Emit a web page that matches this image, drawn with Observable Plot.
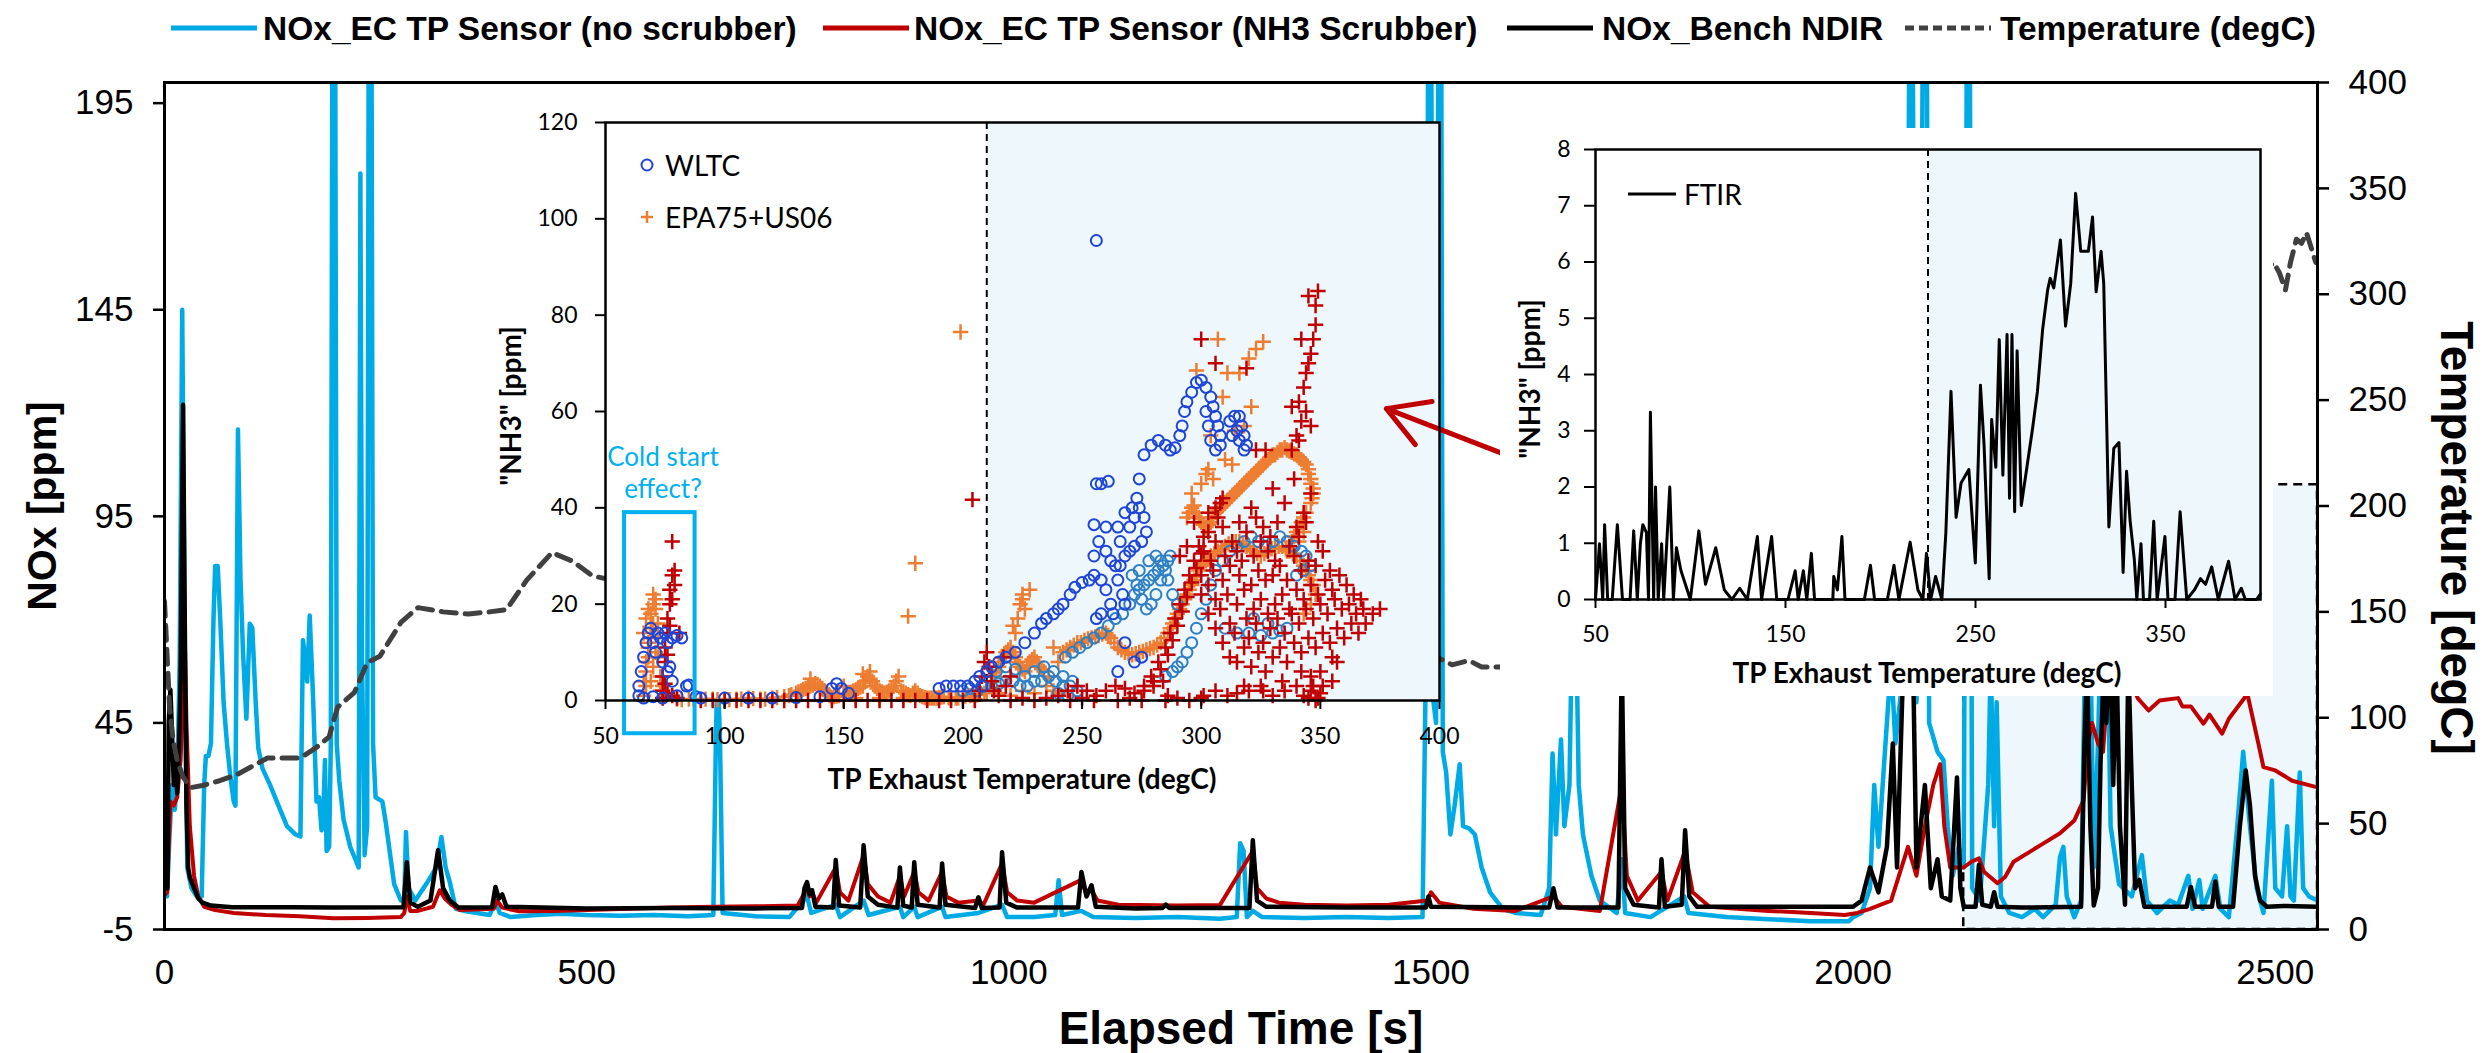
<!DOCTYPE html>
<html><head><meta charset="utf-8">
<script src="https://cdn.jsdelivr.net/npm/d3@7"></script>
<script src="https://cdn.jsdelivr.net/npm/@observablehq/plot@0.6"></script>
<style>
html,body{margin:0;padding:0;background:#fff;}
#root{position:relative;width:2488px;height:1053px;overflow:hidden;background:#fff;}
.abs{position:absolute;white-space:nowrap;line-height:1;}
.arial{font-family:'Liberation Sans',Arial,sans-serif;color:#000;}
.cal{font-family:Lato,'Noto Sans',sans-serif;color:#000;}
.wrap{position:absolute;}
.wrap svg{max-width:none !important;display:block;}
</style></head><body><div id="root"></div>
<script>
// ---------------- MAIN CHART DATA ----------------
const legendLabels = ["NOx_EC TP Sensor (no scrubber)", "NOx_EC TP Sensor (NH3 Scrubber)", "NOx_Bench NDIR", "Temperature (degC)"];
const seriesColors = ["#00aae4", "#c00000", "#000000", "#404040"];
const xTicks = [0, 500, 1000, 1500, 2000, 2500];
const leftTicks = [-5, 45, 95, 145, 195];
const tempTicks = [0, 50, 100, 150, 200, 250, 300, 350, 400];
const shadeBox = {t1: 2131, t2: 2550, T1: 0, T2: 210};

// [time s, NOx ppm]
const noxNoScrubber = [
[0,5],[3,3],[6,18],[9,30],[12,24],[15,30],[18,60],[21,145],[24,60],[27,10],[32,5],[38,3],[44,3],[47,30],[49,37],[52,37],[55,40],[58,70],[60,83],[63,83],[66,70],[70,50],[74,40],[78,32],[82,26],[84,25],[87,116],[90,80],[93,62],[97,46],[101,69],[104,68],[108,50],[111,39],[116,34],[125,30],[135,25],[145,20],[155,18],[161,17.5],[164,65],[167,60],[169,55],[172,71],[176,51],[180,26],[183,27],[186,19],[188,22],[190,36],[192,14],[195,15],[197,40],[199,230],[202,230],[204,40],[207,31],[212,21.7],[220,15],[226,12],[230,10],[232,178],[234,60],[237,13],[240,20],[242,230],[245,230],[247,40],[250,27],[258,26],[262,21],[266,15],[272,6],[280,2],[284,2],[286,18.6],[289,5],[297,2],[310,6],[322,10],[328,17.4],[333,10],[338,6.4],[345,0],[355,-0.5],[370,-1],[385,-1.5],[392,2],[397,-1],[410,-2],[440,-1.5],[470,-1.2],[500,-1.5],[540,-1.7],[580,-1.5],[620,-1.8],[650,-1.5],[653,40],[655,60],[658,40],[661,-1],[700,-1.8],[740,-2],[761,3],[766,-1],[795,1],[800,-2],[828,2],[834,-1.5],[871,0.5],[875,-2],[888,0.5],[892,-2],[921,0.5],[925,-2],[964,-1],[992,1],[998,-2],[1030,-2],[1055,-1.5],[1059,6.9],[1063,-1.5],[1086,-0.5],[1100,-2],[1150,-2.2],[1200,-2],[1250,-2.4],[1270,-2],[1274,15.9],[1278,14],[1282,-2],[1289,-0.5],[1300,-2],[1350,-2.2],[1400,-2],[1450,-2.2],[1490,-2],
[1494,60],[1497,230],[1500,230],[1503,50],[1506,45],[1509,230],[1512,230],[1514,38],[1518,33],[1523,18],[1528,25],[1534,35],[1538,20],[1545,19.5],[1552,18],[1560,10],[1570,4],[1585,0],[1600,-1],[1630,-1.5],[1640,5],[1644,37.6],[1648,18],[1654,41],[1658,20],[1664,30],[1668,80],[1671,80],[1675,30],[1680,18],[1690,8],[1700,2],[1720,-1],[1726,12],[1730,-1],[1760,-2],[1800,3],[1805,-1],[1850,-2],[1900,-2.5],[1950,-3],[1995,-3],
[2000,-2],[2010,-1],[2020,5],[2025,30],[2030,15],[2040,45],[2045,60],[2050,40],[2056,51],[2062,60],[2065,150],[2067,230],[2070,230],[2075,50],[2080,120],[2083,230],[2087,230],[2090,45],[2100,38],[2107,36],[2112,20],[2118,8],[2125,15],[2131,10],[2135,230],[2138,230],[2141,5],[2150,2],[2160,30],[2163,60],[2167,20],[2170,50],[2175,3],[2185,-1],[2200,-2],[2215,0],[2225,-2],[2240,1],[2245,12.5],[2249,15],[2253,3],[2262,-2],[2270,2],[2276,80],[2280,80],[2285,10],[2290,40],[2295,80],[2300,80],[2305,20],[2315,6],[2330,3],[2342,13],[2348,2],[2360,-1],[2375,2],[2385,1],[2397,8],[2402,0],[2410,7],[2414,0],[2429,8],[2435,0],[2445,-2],[2455,20],[2462,38],[2470,20],[2478,5],[2486,-1],[2496,31],[2500,5],[2508,3],[2514,20],[2518,3],[2522,2],[2529,33],[2533,5],[2540,3],[2550,2]
];
const noxScrubber = [
[0,3.3],[3,4],[7,26],[11,25],[15,27],[19,36],[22,50],[24,66],[26,45],[30,20],[35,8],[40,3],[47,0.5],[60,-0.3],[82,-1],[120,-1.5],[160,-1.8],[200,-2.3],[240,-2.2],[280,-2],[284,-1],[287,3],[291,-0.5],[300,-0.5],[318,0.5],[326,4.5],[332,2.5],[340,1],[350,-0.3],[390,0],[394,2],[400,0.3],[420,-0.6],[460,-0.5],[500,-0.3],[550,0],[600,0.3],[650,0.5],[700,0.6],[750,0.8],[761,5],[764,3],[767,4],[772,1.5],[795,10],[800,4],[810,2],[828,13],[833,6],[845,3],[860,1.5],[871,8],[876,3],[888,9],[893,4],[905,2],[921,9],[926,3],[940,1.5],[964,2],[970,1],[992,11],[998,4],[1010,2],[1030,1.5],[1086,7],[1091,4],[1098,4.5],[1105,2],[1130,1],[1200,0.8],[1250,0.9],[1289,14],[1294,5],[1305,2.5],[1320,1.5],[1350,1],[1400,0.8],[1450,1],[1496,2],[1500,4],[1510,1.5],[1550,0],[1600,-0.5],[1645,3],[1655,0.5],[1700,-0.5],[1726,30],[1732,8],[1745,2],[1773,9],[1780,2],[1801,14],[1810,4],[1830,0.5],[1900,-0.5],[1950,-1],[1990,-1.5],[2005,-1],[2020,0],[2045,2],[2065,15],[2075,8],[2085,20],[2095,30],[2103,35],[2108,20],[2115,10],[2131,10],[2140,11.4],[2149,12.2],[2155,9],[2171,6.2],[2180,7.7],[2190,11.4],[2226,15.9],[2245,18.3],[2262,21.4],[2273,26.3],[2278,40],[2283,45],[2290,40],[2296,38],[2302,55],[2310,60],[2320,60],[2330,55],[2337,51],[2350,48],[2363,50.4],[2385,51],[2390,49],[2400,49],[2415,44.8],[2422,47],[2437,42.4],[2445,46],[2467,52],[2480,40],[2486,34.3],[2500,33.5],[2520,31],[2550,29.4]
];
const noxBench = [
[0,5],[2,14],[3.5,5],[5,45],[7,53],[9,42],[11,30],[13,36],[15,28],[17,38],[19,55],[22,122],[24,70],[26,25],[28,10],[30,7.6],[35,5],[40,2.5],[45,1.5],[55,0.8],[80,0.4],[150,0.4],[200,0.3],[283,0.4],[287,11.3],[291,1.5],[300,0.5],[315,2],[324,14.2],[330,5],[338,2],[348,0.3],[388,0.4],[392,5.3],[396,2.5],[400,3.5],[405,0.5],[500,0.1],[600,0.2],[700,0.1],[755,0.2],[758,5],[761,6.5],[764,3.5],[767,4.5],[771,0.5],[792,0.3],[795,11.8],[799,0.8],[824,0.3],[828,15.4],[833,3],[845,1],[868,0.3],[871,10],[875,0.8],[885,0.3],[888,11.3],[892,1],[918,0.3],[921,11],[925,1],[960,0.2],[964,2.8],[968,0.2],[989,0.3],[992,13.7],[997,1.5],[1010,0.3],[1082,0.3],[1086,8.9],[1092,3],[1098,5.7],[1103,0.5],[1150,0.1],[1182,0.2],[1186,1],[1190,0.2],[1285,0.2],[1289,16.6],[1294,2],[1305,0.5],[1400,0.3],[1494,0.3],[1497,3],[1500,0.5],[1640,0.3],[1645,5],[1650,0.3],[1722,0.3],[1726,60],[1730,5],[1740,1],[1770,0.3],[1773,12],[1777,0.5],[1797,1],[1801,19],[1806,3],[1815,0.5],[1900,0.5],[2000,0.5],[2010,2],[2020,10],[2030,4],[2040,15],[2047,40],[2052,10],[2058,50],[2064,80],[2068,90],[2071,60],[2075,10],[2085,30],[2092,5],[2100,12],[2105,3],[2115,2],[2123,31.8],[2127,5],[2131,0.5],[2145,0.5],[2149,10.6],[2153,1],[2163,0.5],[2167,4],[2171,0.5],[2200,0.3],[2270,0.5],[2274,40],[2277,60],[2281,20],[2285,0.8],[2290,5],[2293,35],[2297,60],[2300,45],[2304,70],[2308,30],[2312,60],[2316,20],[2322,1],[2326,60],[2330,30],[2334,5],[2339,7],[2345,0.5],[2395,0.5],[2400,5.3],[2405,0.5],[2425,0.5],[2429,6.6],[2433,0.5],[2450,0.5],[2458,20],[2465,33.5],[2470,25],[2476,8],[2482,2],[2490,0.5],[2510,0.7],[2550,0.5]
];
// [time s, temperature degC]
const temperature = [
[0,155],[3,130],[6,105],[10,90],[15,80],[22,72],[31,67],[45,68],[63,70],[85,73],[122,81],[161,81],[180,86],[195,91],[205,105],[225,112],[240,126],[255,129],[280,145],[300,152],[330,150],[360,149],[385,150],[405,151],[429,165],[459,178],[483,174],[507,167],[530,165],[700,180],[900,200],[1100,190],[1300,160],[1480,130],[1510,128],[1525,125],[1545,127],[1560,124],[1582,124],[1700,150],[1900,180],[2100,230],[2300,280],[2470,305],[2498,315],[2505,310],[2512,302],[2518,315],[2525,326],[2531,324],[2537,329],[2548,315]
];

// ---------------- INSET 1 DATA (scatter) ----------------
const inset1XTicks = [50,100,150,200,250,300,350,400];
const inset1YTicks = [0,20,40,60,80,100,120];
const inset1Legend = ["WLTC", "EPA75+US06"];
const scatterColors = {wltcDark:"#1f45d6", wltcLight:"#2f7fc4", epaOrange:"#ed7d31", epaRed:"#c00000"};
const dividerTemp1 = 210;
const coldBox = {x1:58, x2:87.6, y1:-6.9, y2:39};
const coldText = ["Cold start", "effect?"];
const arrowSeg = {x1:432, y1:50.2, x2:377.7, y2:60.6};
// [T degC, NH3 ppm]
const wltcDark = [
[64,3],[65,6],[66,9],[67,12],[68,14],[69,15],[70,12],[71,10],[72,14],[73,13],[74,8],[75,14],[76,12],[77,7],[78,13],[80,13.5],[82,13],[76,6],[78,4],[84,3],[85,3.2],[64,1],[66,0.5],[70,0.8],[74,0.5],[80,1],[88,0.8],
[90,0.5],[100,0.5],[110,0.5],[120,0.5],[130,0.6],[140,0.8],[145,2.5],[147,3.5],[149,2.5],[152,1.5],[190,2.5],[193,3],[196,3],[199,3],[202,3],[205,4],[207,5],[208,3],[210,6],
[212,7],[215,8],[218,9],[222,10],[226,12],[230,14],[233,16],[235,17],[238,18],[240,19],[242,20],[245,22],[247,23.5],[250,24.5],[253,25],[255,26],[258,25],[260,23],[262,20],[263,18],[258,18],[256,17],[255,30],[257,33],[260,31],[262,29],[264,28],[266,28],[265,25],[267,22],[268,20],[270,36],[265,36],[268,39],[271,40],[273,42],[272,38],[274,40],[276,38],[277,35],[275,33],[272,32],[270,31],[268,30],[266,33],[260,36],[255,36.5],[256,45],[258,45],[261,45.5],[274,46],[276,51],[279,53],[282,54],[285,53],[287,52],[289,52.5],[291,55],[292,57],[293,60],[294,62],[296,64],[298,66],[300,66.5],[302,65],[304,63],[305,61],[306,59],[307,57],[308,55],[308,53],[306,52],[304,54],[303,57],[302,60],[312,58],[314,59],[316,59],[317,57],[318,55],[319,53],[318,52],[316,54],[315,56],[313,55],[256,95.5],[265,6],[272,8],[268,12],[275,9]
];
const wltcLight = [
[200,2],[203,2.5],[206,2],[209,3],[212,3],[215,3.5],[218,4],[221,4],[224,3],[227,3],[230,4],[233,4],[236,5],[239,4],[242,3],[245,3],[214,6],[218,7],[222,6.5],[226,5],[230,6],[234,7],[238,6],[242,5],[246,4],[248,2],[244,1],[240,1.5],
[243,9],[246,10],[249,11],[252,12],[255,13],[258,14],[261,15.5],[264,17],[267,18],[270,20],[272,22],[274,23],[276,24],[278,25],[280,26],[282,27],[284,28],[286,29],[287,30],[285,27],[283,25],[281,22],[279,20],[277,19],[275,21],[273,24],[271,26],[274,27],[278,29],[281,30],[283,29],[286,25],[288,22],[290,20],
[285,5],[288,6],[290,7],[292,8],[294,10],[296,12],[298,15],[300,18],[302,21],[304,24],[306,27],[309,29],[312,31],[315,32],[318,33],[321,34],[324,33],[327,32],[330,33],[333,34],[336,33],[339,32],[342,31],[344,30],[346,28],[343,27],[340,26],[310,15],[315,14],[320,14],[325,13.5],[330,14],[333,14.5],[336,15],[322,17],[328,16]
];
const epaOrange = [
[66,1],[67,3],[67,6],[68,9],[68,12],[69,15],[69,18],[70,20],[70,22],[71,19],[72,16],[72,13],[71,10],[70,7],[69,4],[73,2],[75,1],[66,4],[67,8],[68,11],[69,13],[70,16],[71,21],[68,19],[66,14],[67,17],[72,9],[73,5],[74,3],
[80,0.3],[85,0.3],[90,0.3],[95,0.3],[100,0.3],[105,0.3],[110,0.5],[115,0.3],[120,0.5],[125,0.8],[128,1.2],[130,1.5],[132,2],[134,2.5],[136,3],[138,3.5],[140,3],[142,2],[144,1],[146,0.8],[148,1],[150,1.2],[152,1.5],[154,2],[156,2.5],[158,3],[160,5],[161,6],[162,4],[163,3],[165,2],[167,1.5],[169,2],[171,3],[173,5],[174,2],[176,1.5],[178,1],[180,2],[182,1],[184,0.6],[186,0.5],[188,0.5],[190,0.6],[192,0.8],[195,0.5],[198,0.5],[200,0.8],[203,1],[206,1.2],[209,1.5],[177,17.5],[180,28.5],[199,76.5],
[82,0.2],[87,0.2],[92,0.3],[97,0.2],[102,0.2],[107,0.3],[112,0.4],[117,0.3],[122,0.6],[127,1],[131,1.8],[133,2.3],[135,2.8],[137,3.2],[139,3.3],[141,2.5],[143,1.5],[147,0.9],[151,1.4],[153,1.7],[155,2.2],[157,2.8],[159,4],[164,2.5],[166,1.8],[168,1.7],[170,2.5],[172,4],[175,1.8],[177,1.2],[179,1.5],[181,1.5],[183,0.8],[185,0.5],[187,0.5],[189,0.5],[191,0.7],[194,0.6],[197,0.5],[201,0.9],[204,1.1],[207,1.3],[210,1.6],[145,0.5],[155,0.5],[165,0.5],[175,0.5],[185,0.3],[195,0.3],[205,0.3],[158,5.5],[161,4.5],[136,4.5],[150,3],
[212,4],[214,6],[216,8],[218,10],[220,11],[222,9],[224,7],[226,6],[228,8],[230,9],[232,7],[234,6],[236,5],[222,14],[223,17],[224,20],[225,22],[226,19],[221,15.5],[238,11],[240,8],[235,3],[238,2],[240,1.5],[213,5],[215,7],[217,9],[219,10.5],[221,10],[223,8],[225,6.5],[227,7],[229,8.5],[231,8],[233,6.5],[210,2],[215,1.5],[220,1],[225,2],[230,1.5],
[242,10],[245,11],[248,12],[251,12.5],[254,13],[257,13.5],[260,14],[262,13],[265,11],[268,10],[271,9.5],[274,10],[277,10.5],[280,11],[283,12],[286,14],[288,16],[290,18],[292,20],[294,22],[296,24],[298,26],[300,28],[302,29],[304,30],[307,31],[310,32],[313,33],[316,33],[319,32],[322,31],[325,30],[328,31],[331,32],[334,32],[337,31],[340,30],[343,28],[345,26],[347,24],[348,22],[346,20],[343,18],
[243.5,10.5],[246.5,11.5],[249.5,12],[252.5,12.8],[255.5,13.2],[258.5,13.8],[261,13.5],[263.5,12],[266.5,10.5],[269.5,9.8],[272.5,9.7],[275.5,10.2],[278.5,10.8],[281.5,11.5],[284.5,13],[287,15],[289,17],[291,19],[293,21],[295,23],[297,25],[299,27],[301,28.5],[303,29.5],[305.5,30.5],[308.5,31.5],[311.5,32.5],[314.5,33],[317.5,32.5],[320.5,31.5],[323.5,30.5],[326.5,30.5],[329.5,31.5],[332.5,32],[335.5,31.5],[338.5,30.5],[341.5,29],[344,27],[346,25],
[294,38],[296,40],[298,39],[300,37],[302,36],[304,37],[306,39],[308,40],[310,41],[312,42],[314,43],[316,44],[318,45],[320,46],[322,47],[324,48],[326,49],[328,50],[330,51],[332,51.5],[334,52],[336,52],[338,51.5],[340,51],[342,50],[344,49],[345,47],[346,45],[347,43],[346,41],[344,39],[342,37],[340,35],[338,33],[336,31],[341,33],[343,35],
[295,39],[297,40.5],[299,38],[301,36.5],[303,36.5],[305,38],[307,39.5],[309,40.5],[311,41.5],[313,42.5],[315,43.5],[317,44.5],[319,45.5],[321,46.5],[323,47.5],[325,48.5],[327,49.5],[329,50.5],[331,51],[333,52],[335,52.5],[337,51.8],[339,51.2],[341,50.5],[343,49.5],[345,48],[346,46],[347,44],[346.5,42],[343,38],[341,36],[339,34],
[298,68.5],[307,75],[311,68],[309,63],[316,68],[320,71],[323,73],[326,74.5],[321,61],[304,55],[303,48],[302,47],[305,46],[310,50],[314,56],[318,57],[313,49],[296,43],[300,45],[225,21],[228,23]
];
const epaRed = [
[74,2],[74,5],[75,8],[75,11],[76,14],[76,17],[77,20],[77,23],[78,26],[79,27],[78,33],[81,14],[74,0.5],[80,0.5],[75,3.5],[76,9.5],[77,15.5],[78,21],[79,24],[76,1.5],[78,1],
[90,0],[100,0],[110,0],[120,0],[130,0],[140,0],[150,0],[160,0],[170,0],[180,0],[190,0],[200,0],[95,0],[105,0],[115,0],[125,0],[135,0],[145,0],[155,0],[165,0],[175,0],[185,0],[195,0],[205,0],[204,41.7],[207,2],[208,5],[209,8],[210,10],[211,7],[212,4],[213,2],[215,1],[218,3],[220,5],[217,9],
[220,0],[225,0.5],[230,0],[235,0.5],[245,0],[250,0.5],[255,0],[265,0],[270,0.5],[275,0],[285,0],[290,0.5],[295,0],[300,0.5],
[240,1],[244,2],[248,3],[252,2],[256,1],[260,2],[264,3],[268,2.5],[272,1.5],[276,2],[280,3],[284,4],[286,1],
[276,3],[279,5],[282,8],[285,11],[287,14],[289,17],[291,20],[293,23],[295,26],[297,29],[299,32],[301,34],[297,37],[303,39],[306,40],[309,42],[291,30],[294,32],[280,4],[283,6.5],[286,9.5],[288,12.5],[290,15.5],[292,18.5],[294,21.5],[296,24.5],[298,27.5],[300,30.5],
[300,22],[300,26],[301,31],[303,18],[303,24],[304,29],[303,35],[306,15],[306,21],[305,27],[306,33],[307,38],[309,12],[308,19],[309,25],[310,30],[309,36],[308,41],[312,9],[312,16],[311,22],[312,28],[313,33],
[315,8],[314,14],[315,20],[316,26],[315,31],[316,37],[318,11],[319,17],[318,23],[317,29],[319,35],[321,7],[320,13],[322,19],[321,24],[322,30],[321,40],[324,10],[323,16],[325,21],[324,27],[325,33],[323,38],
[327,6],[326,12],[328,18],[327,25],[328,31],[326,36],[330,9],[329,15],[331,20],[330,26],[331,29],[329,34],[330,44],[333,11],[332,17],[334,22],[333,28],[332,37],[336,8],[335,14],[337,19],[336,25],[337,32],[335,41],
[339,12],[338,18],[340,23],[339,30],[340,36],[339,46],[342,10],[341,16],[343,21],[342,27],[341,34],[343,39],[345,13],[344,19],[346,24],[345,29],[344,37],[346,43],[348,11],[347,17],[349,22],[348,28],[349,33],
[351,14],[350,20],[352,25],[351,31],[354,12],[353,18],[355,23],[354,27],[357,15],[356,21],[358,26],[360,13],[359,19],[361,24],[363,16],[362,20],[364,22],[366,14],[365,18],[367,21],[369,16],[368,19],[372,18],[375,19],
[318,3],[326,2],[334,4],[343,1],[350,6],[355,9],[347,3],[330,1],[335,2],[340,3],[345,0.5],[350,1.5],[355,4],[348,0],[351,3],[346,5],[342,6],[357,8],[301,1],[306,2],[311,1],[320,2],[325,3],[315,1.5],[346,2],[349,0.5],
[338,52],[340,55],[342,58],[344,60],[346,57],[341,62],[343,65],[344,68],[345,70],[346,72],[347,75],[348,78],[348,82],[349,85],[345,84],[342,75],[300,75],[306,70],[319,69],[323,52],[327,52],[341,54],[338,61]
];

// ---------------- INSET 2 DATA (FTIR line) ----------------
const inset2XTicks = [50,150,250,350];
const inset2YTicks = [0,1,2,3,4,5,6,7,8];
const dividerTemp2 = 225;
const ftirTemp = [50,52.1,53.8,54.8,56.4,58.8,61.5,64.2,68.2,70.1,72.0,73.6,74.9,76.8,77.9,78.9,80.6,81.6,83.0,84.8,85.9,89.1,91.0,92.6,95.0,99.9,104.4,107.9,113.3,117.8,121.8,125.9,129.9,135.2,137.4,142.7,145.4,151.3,155.1,156.7,159.4,161.2,163.6,165.3,174.9,175.4,177.3,179.7,181.3,191.5,194.7,196.9,203.6,207.1,209.7,215.6,219.7,222.3,224.2,226.4,229.0,232.3,234.4,237.1,239.8,242.4,246.5,249.9,252.6,254.5,257.2,258.5,260.7,262.5,264.4,266.6,267.9,269.2,270.6,271.9,274.1,277.3,280.0,282.6,285.3,288.0,289.3,291.2,294.7,297.4,300.1,302.7,305.4,309.4,311.6,313.5,316.1,317.5,320.2,322.8,325.5,327.7,329.5,331.4,333.6,334.9,337.1,338.4,341.6,343.8,345.6,349.7,351.3,355.0,357.7,361.2,365.2,368.4,371.1,374.3,377.8,383.2,386.6,389.9,392.0,397.9,400];
const ftirNH3 = [0,0.99,0,1.33,0,0,1.33,0,0,1.22,0,0.99,1.33,1.19,0,3.33,0,2.0,0,0.99,0,2.0,0,0.92,0.51,0,1.22,0.27,0.92,0.17,0,0.2,0,1.12,0,1.12,0,0,0.51,0,0.51,0,0.82,0,0,0.41,0.17,1.12,0,0,0.61,0,0,0.61,0,1.02,0.17,0,0.82,0,0.41,0,1.19,3.7,1.46,2.07,2.31,0.65,3.81,2.75,0.37,3.2,2.35,4.62,2.21,4.71,1.8,4.71,1.56,4.42,1.67,2.41,3.03,3.7,4.79,5.51,5.71,5.54,6.39,4.86,5.61,7.22,6.19,6.19,6.8,5.47,6.19,5.61,1.29,2.69,2.79,0.48,2.28,1.39,0.71,0,0.99,0,0,1.39,0,1.12,0,0,1.56,0,0.17,0.37,0.27,0.58,0,0.68,0,0.2,0,0,0.1];
const ftirLabel = "FTIR";

// ---------------- BUILD ----------------
const root = document.getElementById("root");
const tempToNox = T => -5 + T * 205 / 400;
const noxToTemp = v => Math.round((v + 5) * 400 / 205);
const F_ARIAL = "'Liberation Sans', Arial, sans-serif";
const F_CAL = "Lato, 'Noto Sans', sans-serif";
const plain = d => String(d);

function place(el, left, top, w, h) {
  const d = document.createElement("div");
  d.className = "wrap";
  d.style.left = left + "px"; d.style.top = top + "px";
  if (w) d.style.width = w + "px";
  if (h) d.style.height = h + "px";
  d.appendChild(el); root.appendChild(d); return d;
}
function label(text, cx, cy, size, weight, cls, rot, color) {
  const d = document.createElement("div");
  d.className = "abs " + cls;
  d.textContent = text;
  d.style.left = cx + "px"; d.style.top = cy + "px";
  d.style.fontSize = size + "px"; d.style.fontWeight = weight;
  if (color) d.style.color = color;
  d.style.transform = "translate(-50%,-50%)" + (rot ? ` rotate(${rot}deg)` : "");
  root.appendChild(d); return d;
}
function leftLabel(text, x, cy, size, weight, cls, color) {
  const d = label(text, x, cy, size, weight, cls, 0, color);
  d.style.transform = "translate(0,-50%)"; return d;
}

// Main chart
const mainPlot = Plot.plot({
  width: 2488, height: 1053,
  marginLeft: 164, marginRight: 171, marginTop: 82, marginBottom: 124,
  style: {background: "transparent", fontFamily: F_ARIAL, fontSize: "35px", color: "#000"},
  x: {domain: [0, 2550]},
  y: {domain: [-5, 200]},
  marks: [
    Plot.rect([shadeBox], {x1: "t1", x2: "t2", y1: d => tempToNox(d.T1), y2: d => tempToNox(d.T2), fill: "#eef7fc", stroke: "#000", strokeWidth: 2.5, strokeDasharray: "9,6"}),
    Plot.line(noxNoScrubber, {x: d => d[0], y: d => d[1], stroke: seriesColors[0], strokeWidth: 4.5, clip: true}),
    Plot.line(noxScrubber, {x: d => d[0], y: d => d[1], stroke: seriesColors[1], strokeWidth: 4, clip: true}),
    Plot.line(noxBench, {x: d => d[0], y: d => d[1], stroke: seriesColors[2], strokeWidth: 4.5, clip: true}),
    Plot.line(temperature, {x: d => d[0], y: d => tempToNox(d[1]), stroke: seriesColors[3], strokeWidth: 5, strokeDasharray: "15,9", clip: true}),
    Plot.axisY(leftTicks, {anchor: "left", tickSize: 11, tickPadding: 20, fontSize: 35, strokeWidth: 2.5, tickFormat: plain, label: null}),
    Plot.axisY(tempTicks.map(tempToNox), {anchor: "right", tickSize: 11, tickPadding: 20, fontSize: 35, strokeWidth: 2.5, tickFormat: noxToTemp, label: null}),
    Plot.axisX(xTicks, {anchor: "bottom", tickSize: 0, tickPadding: 30, fontSize: 35, tickFormat: plain, label: null}),
    Plot.frame({stroke: "#000", strokeWidth: 3})
  ]
});
place(mainPlot, 0, 0, 2488, 1053);

// Main legend
const legLineX = [171, 823, 1507, 1905];
const legTextX = [263, 914, 1602, 2000];
legendLabels.forEach((lab, i) => {
  const s = document.createElementNS("http://www.w3.org/2000/svg", "svg");
  s.setAttribute("width", 90); s.setAttribute("height", 12);
  const l = document.createElementNS("http://www.w3.org/2000/svg", "line");
  l.setAttribute("x1", 0); l.setAttribute("x2", 86); l.setAttribute("y1", 6); l.setAttribute("y2", 6);
  l.setAttribute("stroke", seriesColors[i]); l.setAttribute("stroke-width", 5);
  if (i === 3) l.setAttribute("stroke-dasharray", "9,5");
  s.appendChild(l);
  place(s, legLineX[i], 22);
  leftLabel(lab, legTextX[i], 29, 33.5, "bold", "arial");
});

// Main axis titles
label("NOx [ppm]", 42, 506, 41, "bold", "arial", -90);
label("Temperature [degC]", 2457, 538, 46, "bold", "arial", 90);
label("Elapsed Time [s]", 1241, 1028, 46, "bold", "arial", 0);

// Inset 1
const inset1 = Plot.plot({
  width: 1020, height: 720,
  marginLeft: 165, marginRight: 21, marginTop: 27, marginBottom: 115,
  style: {background: "transparent", fontFamily: F_CAL, fontSize: "23px", color: "#000", overflow: "visible"},
  x: {domain: [50, 400]},
  y: {domain: [0, 120]},
  marks: [
    Plot.frame({fill: "white", stroke: null}),
    Plot.rect([{a: dividerTemp1, b: 400}], {x1: "a", x2: "b", y1: 0, y2: 120, fill: "#eef7fc"}),
    Plot.ruleX([dividerTemp1], {stroke: "#000", strokeWidth: 2, strokeDasharray: "7,5"}),
    Plot.dot(epaOrange, {x: d => d[0], y: d => d[1], symbol: "plus", r: 5, stroke: scatterColors.epaOrange, strokeWidth: 2.5, fill: "none"}),
    Plot.dot(wltcLight, {x: d => d[0], y: d => d[1], symbol: "circle", r: 5.5, stroke: scatterColors.wltcLight, strokeWidth: 2, fill: "none"}),
    Plot.dot(epaRed, {x: d => d[0], y: d => d[1], symbol: "plus", r: 5, stroke: scatterColors.epaRed, strokeWidth: 2.5, fill: "none"}),
    Plot.dot(wltcDark, {x: d => d[0], y: d => d[1], symbol: "circle", r: 5.5, stroke: scatterColors.wltcDark, strokeWidth: 2, fill: "none"}),
    Plot.rect([coldBox], {x1: "x1", x2: "x2", y1: "y1", y2: "y2", fill: "none", stroke: "#00b0f0", strokeWidth: 4}),
    Plot.arrow([arrowSeg], {x1: "x1", y1: "y1", x2: "x2", y2: "y2", stroke: "#c00000", strokeWidth: 5, headLength: 24}),
    Plot.axisY(inset1YTicks, {anchor: "left", tickSize: 10, tickPadding: 18, fontSize: 23, strokeWidth: 2, tickFormat: plain, label: null}),
    Plot.axisX(inset1XTicks, {anchor: "bottom", tickSize: 9, tickPadding: 18, fontSize: 23, strokeWidth: 2, tickFormat: plain, label: null}),
    Plot.frame({stroke: "#000", strokeWidth: 2.5})
  ]
});
place(inset1, 440, 95, 1020, 720);
label(coldText[0], 663, 456, 26, "normal", "cal", 0, "#00b0f0");
label(coldText[1], 663, 488, 26, "normal", "cal", 0, "#00b0f0");
label("TP Exhaust Temperature (degC)", 1022, 778, 28, "bold", "cal", 0);
label('"NH3" [ppm]', 510, 406, 28, "bold", "cal", -90);
// inset1 legend
(function(){
  const mk = (kind, color) => {
    const s = document.createElementNS("http://www.w3.org/2000/svg", "svg");
    s.setAttribute("width", 20); s.setAttribute("height", 20);
    if (kind === "circle") {
      const c = document.createElementNS("http://www.w3.org/2000/svg", "circle");
      c.setAttribute("cx", 10); c.setAttribute("cy", 10); c.setAttribute("r", 5.5);
      c.setAttribute("fill", "none"); c.setAttribute("stroke", color); c.setAttribute("stroke-width", 2);
      s.appendChild(c);
    } else {
      const p = document.createElementNS("http://www.w3.org/2000/svg", "path");
      p.setAttribute("d", "M4,10H16M10,4V16"); p.setAttribute("stroke", color); p.setAttribute("stroke-width", 2.5);
      s.appendChild(p);
    }
    return s;
  };
  place(mk("circle", scatterColors.wltcDark), 637, 155);
  leftLabel(inset1Legend[0], 665, 165, 28, "normal", "cal");
  place(mk("plus", scatterColors.epaOrange), 637, 207);
  leftLabel(inset1Legend[1], 665, 217, 28, "normal", "cal");
})();

// Inset 2
const ftir = ftirTemp.map((t, i) => [t, ftirNH3[i]]);
const inset2 = Plot.plot({
  width: 773, height: 568,
  marginLeft: 95, marginRight: 13, marginTop: 21, marginBottom: 97,
  style: {background: "white", fontFamily: F_CAL, fontSize: "23px", color: "#000"},
  x: {domain: [50, 400]},
  y: {domain: [0, 8]},
  marks: [
    Plot.rect([{a: dividerTemp2, b: 400}], {x1: "a", x2: "b", y1: 0, y2: 8, fill: "#eef7fc"}),
    Plot.ruleX([dividerTemp2], {stroke: "#000", strokeWidth: 2, strokeDasharray: "7,5"}),
    Plot.line(ftir, {x: d => d[0], y: d => d[1], stroke: "#000", strokeWidth: 3}),
    Plot.axisY(inset2YTicks, {anchor: "left", tickSize: 11, tickPadding: 14, fontSize: 23, strokeWidth: 2, tickFormat: plain, label: null}),
    Plot.axisX(inset2XTicks, {anchor: "bottom", tickSize: 9, tickPadding: 17, fontSize: 23, strokeWidth: 2, tickFormat: plain, label: null}),
    Plot.frame({stroke: "#000", strokeWidth: 2.5})
  ]
});
place(inset2, 1500, 128, 773, 568);
label("TP Exhaust Temperature (degC)", 1927, 672, 28, "bold", "cal", 0);
label('"NH3" [ppm]', 1529, 379, 28, "bold", "cal", -90);
(function(){
  const s = document.createElementNS("http://www.w3.org/2000/svg", "svg");
  s.setAttribute("width", 50); s.setAttribute("height", 8);
  const l = document.createElementNS("http://www.w3.org/2000/svg", "line");
  l.setAttribute("x1", 0); l.setAttribute("x2", 48); l.setAttribute("y1", 4); l.setAttribute("y2", 4);
  l.setAttribute("stroke", "#000"); l.setAttribute("stroke-width", 3);
  s.appendChild(l);
  place(s, 1628, 190);
  leftLabel(ftirLabel, 1684, 194, 28, "normal", "cal");
})();
</script></body></html>
